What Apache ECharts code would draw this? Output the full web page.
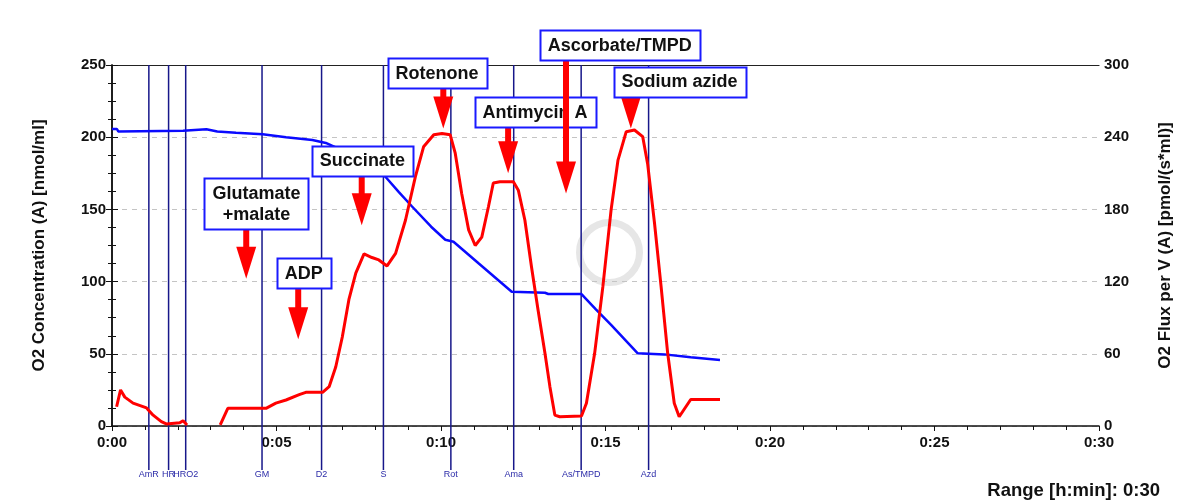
<!DOCTYPE html>
<html>
<head>
<meta charset="utf-8">
<script src="https://cdn.jsdelivr.net/npm/echarts@6/dist/echarts.min.js"></script>
<style>
  html, body { margin: 0; padding: 0; background: #fff; }
  #chart { width: 1182px; height: 504px; }
</style>
</head>
<body>
<div id="chart"></div>
<script>
// O2 concentration (left axis, nmol/ml), [time in min, value]
var concData = [
  [0, 205.7], [0.15, 205.7], [0.19, 204], [2.16, 204.5], [2.2, 205.5], [2.87, 205.5],
  [3.2, 204], [3.77, 203], [4.58, 202], [5.29, 200], [6.09, 198], [6.5, 196], [6.7, 194],
  [7.3, 188], [7.9, 179], [8.31, 172.6], [8.72, 162], [9.12, 152], [9.7, 138], [10.13, 129],
  [10.38, 127.6], [11.14, 112.7], [12.15, 93], [13.16, 92.3], [13.26, 91.4], [14.27, 91.4],
  [14.7, 81], [15.17, 70], [15.98, 50.3], [16.79, 49.6], [17.59, 47.6], [18.48, 45.7]
];

// O2 flux per V (right axis, pmol/(s*ml)), gap where no data
var fluxData = [
  [0.14, 16], [0.26, 30], [0.39, 24], [0.64, 19], [1.05, 15], [1.25, 9], [1.5, 3.6],
  [1.65, 1.7], [2.06, 2.7], [2.16, 4.4], [2.28, 0.8], [2.8, null],
  [3.29, 1], [3.52, 14.7], [4.68, 14.7], [4.98, 19], [5.29, 21.6], [5.69, 26], [5.89, 28],
  [6.4, 28], [6.6, 32.7], [6.8, 49], [7.0, 74], [7.2, 105], [7.41, 127], [7.66, 143],
  [7.9, 140], [8.11, 138], [8.36, 133], [8.62, 143.5], [8.92, 171], [9.22, 207], [9.47, 232],
  [9.78, 242], [10.03, 243], [10.28, 242], [10.43, 227], [10.63, 193], [10.84, 163],
  [11.04, 150], [11.24, 157], [11.44, 182], [11.59, 202], [11.79, 203], [12.2, 203],
  [12.35, 196], [12.55, 171], [12.75, 132.4], [12.95, 96.4], [13.16, 60.4], [13.31, 32.7],
  [13.46, 9.1], [13.61, 7.7], [14.27, 8.3], [14.42, 18.9], [14.67, 60.4], [14.92, 115.8],
  [15.17, 179.6], [15.38, 221], [15.63, 244.6], [15.88, 246], [16.13, 240.5], [16.28, 218],
  [16.49, 168.5], [16.69, 115.8], [16.89, 60.4], [17.09, 18.9], [17.24, 7.7], [17.59, 22],
  [18.48, 22]
];

// event marks (vertical lines + small labels under the axis)
var markTimes = [1.12, 1.72, 2.24, 4.56, 6.37, 8.25, 10.3, 12.21, 14.26, 16.31];
var markLabels = ['AmR', 'HR', 'HRO2', 'GM', 'D2', 'S', 'Rot', 'Ama', 'As/TMPD', 'Azd'];

// titration annotations: arrow time, arrow tip (nmol/ml), box centre time, box top (nmol/ml)
var annTexts = ['Glutamate\n+malate', 'ADP', 'Succinate', 'Rotenone', 'Antimycin A', 'Ascorbate/TMPD', 'Sodium azide'];
var annArrowT = [4.08, 5.66, 7.59, 10.07, 12.04, 13.8, 15.77];
var annTip = [102, 60, 139, 206, 175, 161, 206];
var annBoxT = [4.39, 5.83, 7.61, 9.88, 12.86, 15.43, 17.25];
var annBoxTop = [171.7, 116.3, 193.9, 254.8, 227.8, 274.2, 248.6];

var FONT = 'Arial, "Liberation Sans", sans-serif';
var ANN_FONT = 'bold 18px ' + FONT;

var chart = echarts.init(document.getElementById('chart'));

// measure box text so the box can be drawn as a real rect
var measureCtx = document.createElement('canvas').getContext('2d');
measureCtx.font = ANN_FONT;
function textWidth(str) {
  var w = 0;
  str.split('\n').forEach(function (line) {
    w = Math.max(w, measureCtx.measureText(line).width);
  });
  return w;
}

function fmtTime(v) {
  var m = Math.round(v);
  return '0:' + (m < 10 ? '0' + m : m);
}

var annData = annTexts.map(function (t, i) {
  return [annArrowT[i], annTip[i], annBoxT[i], annBoxTop[i], i];
});
var markData = markTimes.map(function (t, i) { return [t, i]; });

var axisFont = { fontFamily: FONT, fontSize: 15, fontWeight: 'bold', color: '#111' };

var option = {
  animation: false,
  backgroundColor: '#fff',
  title: {
    text: 'Range [h:min]: 0:30',
    right: 22,
    top: 481,
    padding: 0,
    textStyle: { fontFamily: FONT, fontSize: 18.5, fontWeight: 'bold', color: '#111' }
  },
  grid: {
    left: 112, right: 78, top: 65, bottom: 78
  },
  xAxis: [
    {
      type: 'value',
      min: 0, max: 30, interval: 5,
      axisLine: { lineStyle: { color: '#111', width: 1.5 } },
      axisTick: { length: 5, lineStyle: { color: '#111' } },
      minorTick: { show: true, splitNumber: 5, length: 4, lineStyle: { color: '#111' } },
      splitLine: { show: false },
      axisLabel: Object.assign({ formatter: fmtTime, margin: 9 }, axisFont)
    },
    {
      // plain frame line along the top of the plot
      type: 'value',
      position: 'top',
      min: 0, max: 30,
      axisLine: { show: true, onZero: false, lineStyle: { color: '#222', width: 1.2 } },
      axisTick: { show: false },
      axisLabel: { show: false },
      splitLine: { show: false }
    }
  ],
  yAxis: [
    {
      type: 'value',
      min: 0, max: 250, interval: 50,
      name: 'O2 Concentration (A) [nmol/ml]',
      nameLocation: 'middle', nameGap: 64,
      nameTextStyle: { fontFamily: FONT, fontSize: 17, fontWeight: 'bold', color: '#111' },
      axisLine: { show: true, lineStyle: { color: '#111', width: 1.5 } },
      axisTick: { show: true, length: 6, lineStyle: { color: '#111' } },
      minorTick: { show: true, splitNumber: 4, length: 4, lineStyle: { color: '#111' } },
      splitLine: { show: true, lineStyle: { color: '#c4c4c4', type: [5, 5], width: 1 } },
      axisLabel: Object.assign({ margin: 6 }, axisFont)
    },
    {
      type: 'value',
      position: 'right',
      min: 0, max: 300, interval: 60,
      name: 'O2 Flux per V (A) [pmol/(s*ml)]',
      nameLocation: 'middle', nameGap: 58,
      nameTextStyle: { fontFamily: FONT, fontSize: 17, fontWeight: 'bold', color: '#111' },
      axisLine: { show: true, lineStyle: { color: '#111', width: 1.5 } },
      axisTick: { show: true, length: 6, lineStyle: { color: '#111' } },
      minorTick: { show: true, splitNumber: 4, length: 4, lineStyle: { color: '#111' } },
      splitLine: { show: false },
      axisLabel: Object.assign({ margin: 5 }, axisFont)
    }
  ],
  graphic: [
    {
      type: 'circle', left: 576, top: 219, z: 0, silent: true,
      shape: { r: 30 },
      style: { fill: 'none', stroke: '#e6e6e6', lineWidth: 7 }
    }
  ],
  series: [
    {
      name: 'marks',
      type: 'custom',
      xAxisIndex: 0, yAxisIndex: 0,
      clip: false,
      z: 1,
      silent: true,
      data: markData,
      renderItem: function (params, api) {
        var t = api.value(0);
        var top = api.coord([t, 250]);
        var bot = api.coord([t, 0]);
        return {
          type: 'group',
          children: [
            {
              type: 'line',
              shape: { x1: top[0], y1: top[1], x2: bot[0], y2: bot[1] + 44 },
              style: { stroke: '#17178a', lineWidth: 1.5 }
            },
            {
              type: 'text',
              style: {
                text: markLabels[api.value(1)],
                x: bot[0], y: bot[1] + 44,
                align: 'center', verticalAlign: 'top',
                font: '9px ' + FONT, fill: '#2b2ba8'
              }
            }
          ]
        };
      }
    },
    {
      name: 'O2 Concentration',
      type: 'line',
      yAxisIndex: 0,
      z: 3,
      symbol: 'none',
      lineStyle: { color: '#0a0aff', width: 2.5 },
      data: concData
    },
    {
      name: 'O2 Flux per V',
      type: 'line',
      yAxisIndex: 1,
      z: 4,
      symbol: 'none',
      connectNulls: false,
      lineStyle: { color: '#ff0000', width: 3 },
      data: fluxData
    },
    {
      name: 'annotations',
      type: 'custom',
      xAxisIndex: 0, yAxisIndex: 0,
      clip: false,
      zlevel: 1,
      z: 20,
      silent: true,
      data: annData,
      renderItem: function (params, api) {
        var idx = api.value(4);
        var label = annTexts[idx];
        var nLines = label.split('\n').length;
        var tip = api.coord([api.value(0), api.value(1)]);
        var box = api.coord([api.value(2), api.value(3)]);
        var w = textWidth(label) + 16;
        var h = nLines * 21 + 9;
        var headLen = 32, headHalf = 10;
        var shaftTop = box[1] + h - 2;
        return {
          type: 'group',
          children: [
            {
              type: 'rect',
              shape: { x: tip[0] - 3, y: shaftTop, width: 6, height: tip[1] - headLen - shaftTop + 1 },
              style: { fill: '#ff0000' }
            },
            {
              type: 'polygon',
              shape: { points: [[tip[0] - headHalf, tip[1] - headLen], [tip[0] + headHalf, tip[1] - headLen], [tip[0], tip[1]]] },
              style: { fill: '#ff0000' }
            },
            {
              type: 'rect',
              shape: { x: Math.round(box[0] - w / 2) + 0.5, y: Math.round(box[1]) + 0.5, width: Math.round(w), height: h },
              style: { fill: '#fff', stroke: '#1a1aff', lineWidth: 2 }
            },
            {
              type: 'text',
              style: {
                text: label,
                x: box[0], y: box[1] + 5,
                align: 'center', verticalAlign: 'top',
                font: ANN_FONT, fill: '#111',
                lineHeight: 21
              }
            }
          ]
        };
      }
    }
  ]
};

chart.setOption(option);
</script>
</body>
</html>
